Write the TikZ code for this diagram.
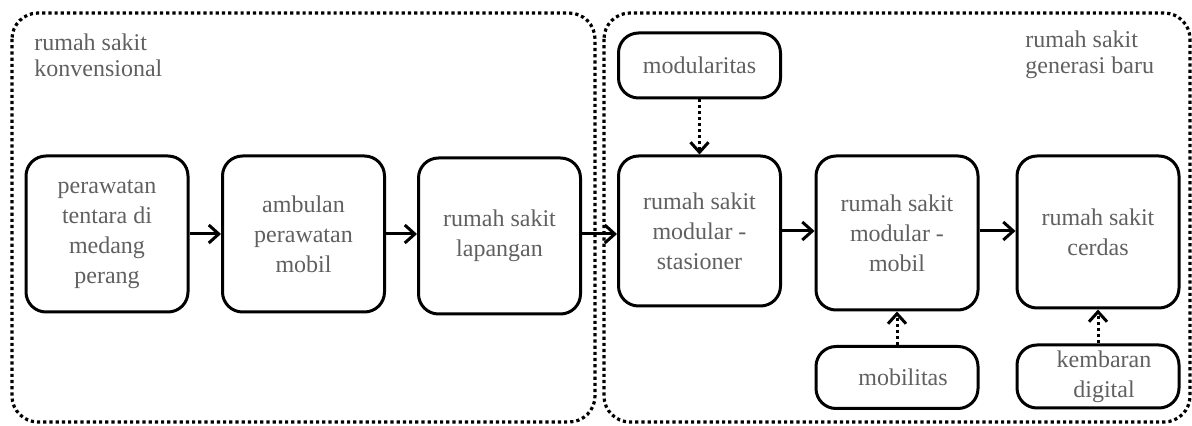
\documentclass[tikz,border=0pt]{standalone}
\usepackage{fontspec}
\setmainfont{Liberation Serif}
\usetikzlibrary{arrows.meta}
\definecolor{labelgray}{RGB}{96,96,96}

\begin{document}
\begin{tikzpicture}[x=0.5pt,y=0.5pt,yscale=-1,
    phase/.style={draw,line width=1.5pt,rounded corners=10pt,align=center,text=labelgray,
      font=\fontsize{12}{15}\selectfont,inner sep=0pt,minimum width=81pt,minimum height=78pt},
    frame/.style={line width=1.6pt,dash pattern=on 1.6pt off 1.5pt,rounded corners=13pt},
    flow/.style={line width=1.5pt,-{Straight Barb[length=5pt,width=9pt]}},
    pull/.style={flow,dash pattern=on 1.5pt off 1.5pt},
    grouplabel/.style={anchor=west,align=left,text=labelgray,font=\fontsize{12}{13}\selectfont,inner sep=0pt}]
  \useasboundingbox (0,0) rectangle (1192,426);
  %Shape: dotted groups
  \draw[frame] (12,13) rectangle (595,422);
  \draw[frame] (604,13) rectangle (1190,422);
  % Text Node
  \node[grouplabel] (konv) at (34,55) {rumah sakit\\konvensional};
  \node[grouplabel] (baru) at (1025,55) {rumah sakit\\generasi baru};
  %Shape: old phases
  \node[phase] (soldier) at (107,234) {perawatan\\tentara di\\medang\\perang};
  \node[phase] (ambulance) at (303.5,234) {ambulan\\perawatan\\mobil};
  \node[phase] (field) at (499.5,236) {rumah sakit\\lapangan};
  %Shape: new phases
  \node[phase,minimum height=75pt] (stationary) at (699.5,231) {rumah sakit\\modular -\\stasioner};
  \node[phase,minimum height=77pt] (mobile) at (897,233) {rumah sakit\\modular -\\mobil};
  \node[phase,minimum height=76pt] (smart) at (1098,232) {rumah sakit\\cerdas};
  %Shape: drivers
  \node[phase,minimum height=32.5pt] (modularity) at (699.5,65.5) {modularitas};
  \node[phase,minimum height=31pt] (mobility) at (897,377.5) {\hspace{6pt}mobilitas};
  \node[phase,minimum height=31.5pt] (twin) at (1098,376.5) {\hspace{6pt}kembaran\\\hspace{6pt}digital};
  %Straight Lines
  \draw[flow] (soldier.east) -- (ambulance.west);
  \draw[flow] (ambulance.east) -- (ambulance.east -| field.west);
  \draw[flow] (field.east |- soldier.east) -- (soldier.east -| stationary.west);
  \draw[flow] (stationary.east) -- (stationary.east -| mobile.west);
  \draw[flow] (mobile.east |- stationary.east) -- (stationary.east -| smart.west);
  %Dotted Lines
  \draw[pull] (modularity.south) -- (stationary.north);
  \draw[pull] (mobility.north) -- (mobile.south);
  \draw[pull] (twin.north) -- (smart.south);
\end{tikzpicture}
\end{document}
